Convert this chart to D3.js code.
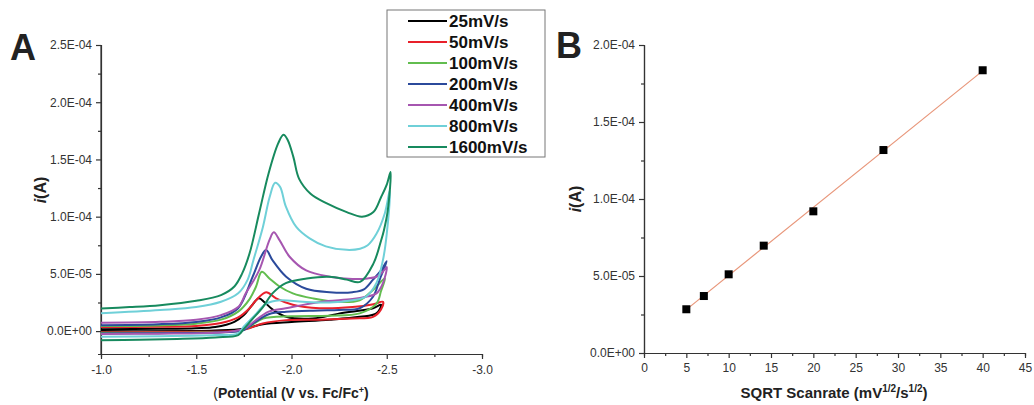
<!DOCTYPE html>
<html><head><meta charset="utf-8">
<script src="https://cdn.jsdelivr.net/npm/d3@7"></script>
<style>
html,body{margin:0;padding:0;background:#fff;}
svg{display:block;font-family:"Liberation Sans",Arial,sans-serif;}
</style></head>
<body><svg id="chart" width="1034" height="405"></svg>
<script>
// ---------- DATA ----------
// Panel A: cyclic voltammograms, [potential V, current µA]
const scanRates = ["25mV/s","50mV/s","100mV/s","200mV/s","400mV/s","800mV/s","1600mV/s"];
const cv25 = [[-1.0,1.7],[-1.3,2],[-1.5,2.5],[-1.6,3.5],[-1.7,8],[-1.75,14],[-1.79,22],[-1.828,28.6],[-1.86,25],[-1.9,19],[-1.972,12.5],[-2.112,11],[-2.253,15.5],[-2.428,20],[-2.47,23],
  [-2.446,15.5],[-2.358,12.5],[-2.2,10],[-2.0,8],[-1.85,6],[-1.75,2],[-1.6,0.5],[-1.0,0]];
const cv50 = [[-1.0,3.5],[-1.3,3.8],[-1.5,4.5],[-1.63,7],[-1.72,12],[-1.78,20],[-1.814,27],[-1.867,34],[-1.919,28.6],[-2.007,23],[-2.147,20],[-2.32,21],[-2.43,23.5],[-2.48,25.6],
  [-2.47,19],[-2.428,12.5],[-2.32,11],[-2.15,10],[-1.972,9.6],[-1.849,6.7],[-1.77,2],[-1.7,0],[-1.5,-0.6],[-1.0,-1]];
const cv100 = [[-1.0,4.4],[-1.3,5],[-1.5,6.5],[-1.63,10],[-1.72,17],[-1.78,28],[-1.814,39],[-1.844,51.8],[-1.884,46],[-1.937,39],[-2.007,33],[-2.112,28.6],[-2.235,25.6],[-2.358,27],[-2.428,36],[-2.49,46],
  [-2.47,35],[-2.446,24],[-2.358,15.5],[-2.2,13.5],[-2.0,13],[-1.85,11],[-1.78,4],[-1.72,0],[-1.5,-1.2],[-1.0,-1.5]];
const cv200 = [[-1.0,5.2],[-1.3,6],[-1.5,8],[-1.63,12],[-1.72,20],[-1.796,47.5],[-1.84,65],[-1.867,70.8],[-1.9,62],[-1.972,47.5],[-2.077,37],[-2.2,34],[-2.32,34],[-2.38,36.5],[-2.428,45],[-2.47,53],[-2.5,61],
  [-2.463,45],[-2.428,30],[-2.358,20],[-2.25,18.5],[-2.147,18],[-1.972,17],[-1.884,15],[-1.8,7],[-1.75,1],[-1.6,-1.2],[-1.3,-1.8],[-1.0,-2]];
const cv400 = [[-1.0,7.3],[-1.31,8.1],[-1.5,10],[-1.63,14],[-1.72,21],[-1.76,33],[-1.83,53],[-1.884,79.5],[-1.907,86.3],[-1.937,79.5],[-1.99,65],[-2.077,53],[-2.2,47.5],[-2.32,45.5],[-2.4,46],[-2.446,47.5],[-2.475,51],[-2.5,56],
  [-2.48,42],[-2.446,33],[-2.39,30],[-2.32,28],[-2.15,25.5],[-1.97,20],[-1.88,17],[-1.8,8],[-1.75,2],[-1.6,-1.5],[-1.3,-2.2],[-1.0,-2.5]];
const cv800 = [[-1.0,15.5],[-1.31,18.4],[-1.5,21],[-1.63,25.6],[-1.72,33],[-1.77,45],[-1.8,62],[-1.85,91],[-1.885,117],[-1.914,129.6],[-1.94,126],[-1.97,109],[-2.025,91],[-2.095,81],[-2.18,74],[-2.29,71],[-2.36,72],[-2.4,75],[-2.446,85],[-2.49,103],[-2.516,123],
  [-2.5,85],[-2.48,62],[-2.446,42],[-2.39,30],[-2.32,27],[-2.2,25],[-2.06,25.6],[-1.94,27],[-1.867,24],[-1.8,12.5],[-1.75,4],[-1.72,-2],[-1.6,-3.5],[-1.3,-4.5],[-1.0,-5]];
const cv1600 = [[-1.0,19.8],[-1.15,21],[-1.31,22.7],[-1.5,26.5],[-1.63,31.5],[-1.7,39],[-1.74,50],[-1.78,68],[-1.83,103],[-1.88,138],[-1.93,164],[-1.958,171.5],[-1.98,167],[-2.01,152],[-2.04,133],[-2.1,120],[-2.18,112],[-2.29,104],[-2.37,100],[-2.43,104],[-2.47,117],[-2.5,128],[-2.52,139],
  [-2.505,105],[-2.485,88],[-2.47,79],[-2.43,59],[-2.36,43],[-2.29,45],[-2.2,47.5],[-2.08,46],[-1.97,42],[-1.9,33],[-1.85,21],[-1.79,9.6],[-1.75,2],[-1.72,-3.5],[-1.6,-5.5],[-1.4,-6.8],[-1.2,-7.5],[-1.0,-7.9]];
const cvSeries = [cv25, cv50, cv100, cv200, cv400, cv800, cv1600];

const xTicksA = [-1.0,-1.5,-2.0,-2.5,-3.0];
const xTickLabelsA = ["-1.0","-1.5","-2.0","-2.5","-3.0"];
const yTicksA = [0,5e-5,1e-4,1.5e-4,2e-4,2.5e-4];
const yTickLabelsA = ["0.0E+00","5.0E-05","1.0E-04","1.5E-04","2.0E-04","2.5E-04"];

// Panel B: peak current vs sqrt(scan rate)
const sqrtScanrate = [5, 7.07, 10, 14.14, 20, 28.28, 40];
const peakCurrent = [2.84e-5, 3.70e-5, 5.11e-5, 6.97e-5, 9.20e-5, 1.318e-4, 1.836e-4];
const xTicksB = [0,5,10,15,20,25,30,35,40,45];
const yTicksB = [0,5e-5,1e-4,1.5e-4,2e-4];
const yTickLabelsB = ["0.0E+00","5.0E-05","1.0E-04","1.5E-04","2.0E-04"];

// ---------- STYLE ----------
const colors = ["#000000","#e8202a","#62bd4f","#2b4a9b","#a656b0","#6fd0d8","#178a5e"];
const axisColor = "#333";

const svg = d3.select("#chart");

function styleAxis(g){
  g.selectAll("path.domain").attr("stroke",axisColor).attr("stroke-width",1.2);
  g.selectAll(".tick line").attr("stroke",axisColor).attr("stroke-width",1.2);
  g.selectAll(".tick text").attr("fill","#333").style("font-size","12px").style("font-family","'Liberation Sans',Arial,sans-serif");
}

// ---------- PANEL A ----------
const xA = d3.scaleLinear().domain([-1,-3]).range([101,482]);
const yA = d3.scaleLinear().domain([-20e-6,250e-6]).range([354,45]);

// minor ticks
svg.append("g").attr("transform","translate(0,354)")
  .call(d3.axisBottom(xA).tickValues([-1.25,-1.75,-2.25,-2.75]).tickSize(3).tickFormat(""))
  .call(styleAxis);
svg.append("g").attr("transform","translate(101,0)")
  .call(d3.axisLeft(yA).tickValues([2.5e-5,7.5e-5,1.25e-4,1.75e-4,2.25e-4]).tickSize(3).tickFormat(""))
  .call(styleAxis);
svg.append("g").attr("transform","translate(0,354)")
  .call(d3.axisBottom(xA).tickValues(xTicksA).tickFormat((d,i)=>xTickLabelsA[i]).tickSize(5).tickSizeOuter(0).tickPadding(6))
  .call(styleAxis);
const yAxA = svg.append("g").attr("transform","translate(101,0)")
  .call(d3.axisLeft(yA).tickValues(yTicksA).tickFormat((d,i)=>yTickLabelsA[i]).tickSize(5).tickSizeOuter(0).tickPadding(4))
  .call(styleAxis);
yAxA.select("path.domain").attr("d","M0,354V45");

const lineA = d3.line().x(d=>xA(d[0])).y(d=>yA(d[1]*1e-6)).curve(d3.curveCatmullRom.alpha(0.5));
svg.append("g").selectAll("path").data(cvSeries).join("path")
  .attr("d",lineA).attr("fill","none").attr("stroke",(d,i)=>colors[i]).attr("stroke-width",2);

// labels
svg.append("text").attr("x",10).attr("y",60).text("A").style("font-size","36px").style("font-weight","bold").attr("fill","#222");
const ylabA = svg.append("text").attr("transform","translate(46,190) rotate(-90)").attr("text-anchor","middle")
  .style("font-size","16px").style("font-weight","bold").attr("fill","#222");
ylabA.append("tspan").text("i").style("font-style","italic");
ylabA.append("tspan").text("(A)");
const xlabA = svg.append("text").attr("x",291).attr("y",398).attr("text-anchor","middle")
  .style("font-size","14px").style("font-weight","bold").attr("fill","#222");
xlabA.append("tspan").text("(").style("font-weight","normal");
xlabA.append("tspan").text("Potential (V vs. Fc/Fc");
xlabA.append("tspan").text("+").attr("dy",-5).style("font-size","9px");
xlabA.append("tspan").text(")").attr("dy",5);

// legend
const leg = svg.append("g");
leg.append("rect").attr("x",387).attr("y",10).attr("width",158).attr("height",147)
  .attr("fill","#fff").attr("stroke","#777").attr("stroke-width",1);
scanRates.forEach((s,i)=>{
  const yy = 21 + i*21;
  leg.append("line").attr("x1",408).attr("x2",447).attr("y1",yy).attr("y2",yy).attr("stroke",colors[i]).attr("stroke-width",1.8);
  leg.append("text").attr("x",449).attr("y",yy+6).text(s).style("font-size","17px").style("font-weight","bold").attr("fill","#111");
});

// ---------- PANEL B ----------
const xB = d3.scaleLinear().domain([0,45]).range([644,1025]);
const yB = d3.scaleLinear().domain([0,2e-4]).range([353,45]);

svg.append("g").attr("transform","translate(0,353)")
  .call(d3.axisBottom(xB).tickValues(d3.range(2.5,45,5)).tickSize(3).tickFormat(""))
  .call(styleAxis);
svg.append("g").attr("transform","translate(644,0)")
  .call(d3.axisLeft(yB).tickValues([2.5e-5,7.5e-5,1.25e-4,1.75e-4]).tickSize(3).tickFormat(""))
  .call(styleAxis);
svg.append("g").attr("transform","translate(0,353)")
  .call(d3.axisBottom(xB).tickValues(xTicksB).tickFormat(d3.format("d")).tickSize(5).tickSizeOuter(0).tickPadding(5))
  .call(styleAxis);
svg.append("g").attr("transform","translate(644,0)")
  .call(d3.axisLeft(yB).tickValues(yTicksB).tickFormat((d,i)=>yTickLabelsB[i]).tickSize(5).tickSizeOuter(0).tickPadding(4))
  .call(styleAxis);

// linear fit
const mx = d3.mean(sqrtScanrate), my = d3.mean(peakCurrent);
const slope = d3.sum(sqrtScanrate.map((x,i)=>(x-mx)*(peakCurrent[i]-my))) / d3.sum(sqrtScanrate.map(x=>(x-mx)*(x-mx)));
const icpt = my - slope*mx;
const fitX = d3.extent(sqrtScanrate);
svg.append("line").attr("x1",xB(fitX[0])).attr("x2",xB(fitX[1]))
  .attr("y1",yB(icpt+slope*fitX[0])).attr("y2",yB(icpt+slope*fitX[1]))
  .attr("stroke","#e8967a").attr("stroke-width",1.2);

svg.append("g").selectAll("rect").data(sqrtScanrate).join("rect")
  .attr("x",(d)=>xB(d)-4).attr("y",(d,i)=>yB(peakCurrent[i])-4).attr("width",8).attr("height",8).attr("fill","#000");

svg.append("text").attr("x",556).attr("y",58).text("B").style("font-size","36px").style("font-weight","bold").attr("fill","#222");
const ylabB = svg.append("text").attr("transform","translate(581,199) rotate(-90)").attr("text-anchor","middle")
  .style("font-size","16px").style("font-weight","bold").attr("fill","#222");
ylabB.append("tspan").text("i").style("font-style","italic");
ylabB.append("tspan").text("(A)");
const xlabB = svg.append("text").attr("x",834).attr("y",398).attr("text-anchor","middle")
  .style("font-size","15px").style("font-weight","bold").attr("fill","#222");
xlabB.append("tspan").text("SQRT Scanrate (mV");
xlabB.append("tspan").text("1/2").attr("dy",-6).style("font-size","10px");
xlabB.append("tspan").text("/s").attr("dy",6);
xlabB.append("tspan").text("1/2").attr("dy",-6).style("font-size","10px");
xlabB.append("tspan").text(")").attr("dy",6);
</script></body></html>
